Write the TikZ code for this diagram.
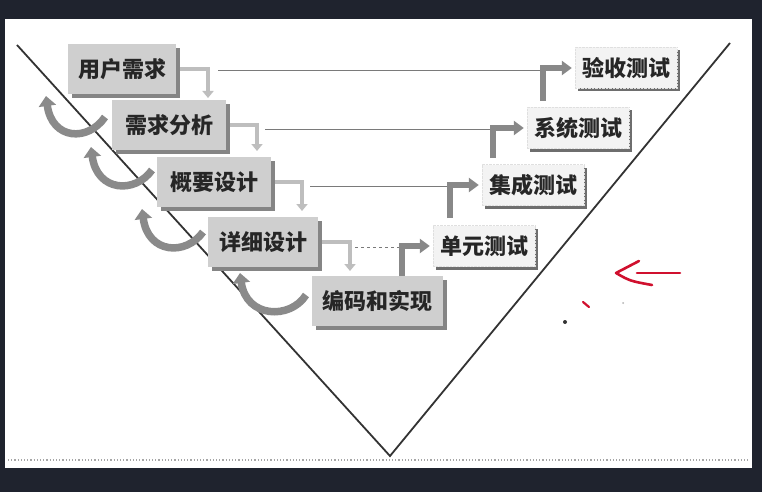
\documentclass[tikz,border=0pt]{standalone}
\usepackage{fontspec}
\newfontfamily\cjk{Noto Sans CJK SC}
\usetikzlibrary{arrows.meta,shadows,calc}
\definecolor{bgdark}{HTML}{1F232E}
\definecolor{lfill}{HTML}{CFCFCF}
\definecolor{lshadow}{HTML}{858585}
\definecolor{rfill}{HTML}{F3F3F3}
\definecolor{rshadow}{HTML}{6E6E6E}
\definecolor{elbow}{HTML}{888888}
\definecolor{downc}{HTML}{BEBEBE}
\definecolor{curvc}{HTML}{8A8A8A}
\definecolor{linec}{HTML}{7A7A7A}
\definecolor{vline}{HTML}{333333}
\definecolor{redmark}{HTML}{D0102E}
\begin{document}
\begin{tikzpicture}[x=1pt,y=-1pt,
  lbox/.style={fill=lfill, minimum height=50pt, inner sep=0pt,
    font=\cjk\bfseries\fontsize{22}{24}\selectfont, text=black!85,
    drop shadow={shadow xshift=4pt, shadow yshift=-4pt, fill=lshadow, opacity=1}},
  rbox/.style={fill=rfill, draw=gray!25, densely dotted, minimum width=102pt, minimum height=41pt, inner sep=0pt,
    font=\cjk\bfseries\fontsize{22}{24}\selectfont, text=black!85,
    drop shadow={shadow xshift=3pt, shadow yshift=-3pt, fill=rshadow, opacity=1}},
  elbowarrow/.style={draw=elbow, line width=5.5pt, -{Triangle[length=10pt,width=14pt]}, shorten >=3pt},
  downarrow/.style={draw=downc, line width=4pt, -{Triangle[length=7pt,width=11pt]}},
  curvarrow/.style={draw=curvc, line width=7.5pt, -{Triangle[length=10pt,width=17pt]}},
  hline/.style={draw=linec, line width=1pt},
  vshape/.style={draw=vline, line width=1.8pt}
]
\useasboundingbox (0,0) rectangle (762,492);
\fill[bgdark] (0,0) rectangle (762,492);
\fill[white] (5,19) rectangle (752,468);
\draw[gray!70, line width=1.2pt, dotted] (8,460) -- (750,460);

% V shape
\coordinate (vtl) at (17,45);
\coordinate (vb) at (390,456);
\coordinate (vtr) at (730,43);
\draw[vshape] (vtl) -- (vb) -- (vtr);

% left boxes
\node[lbox, minimum width=108pt] (L1) at (122,69) {用户需求};
\node[lbox, minimum width=114pt] (L2) at (169,125) {需求分析};
\node[lbox, minimum width=114pt] (L3) at (214,182) {概要设计};
\node[lbox, minimum width=110pt] (L4) at (263,242) {详细设计};
\node[lbox, minimum width=131pt] (L5) at (377,301) {编码和实现};

% right boxes
\node[rbox] (R1) at (626,68) {验收测试};
\node[rbox] (R2) at (578,128) {系统测试};
\node[rbox] (R3) at (533,185) {集成测试};
\node[rbox] (R4) at (484,246) {单元测试};

% down arrows from left boxes
\coordinate (d1) at (208,98);
\coordinate (d2) at (257,151);
\coordinate (d3) at (302,211);
\coordinate (d4) at (350,271);
\draw[downarrow] ([xshift=4pt]L1.east) -| (d1);
\draw[downarrow] ([xshift=4pt]L2.east) -| (d2);
\draw[downarrow] ([xshift=4pt]L3.east) -| (d3);
\draw[downarrow] ([xshift=4pt]L4.east) -| (d4);

% elbow arrows into right boxes
\coordinate (e1) at (543,101);
\coordinate (e2) at (493,158);
\coordinate (e3) at (450,218);
\coordinate (e4) at (402,276);
\draw[elbowarrow] (e1) |- (R1.west);
\draw[elbowarrow] (e2) |- (R2.west);
\draw[elbowarrow] (e3) |- (R3.west);
\draw[elbowarrow] (L5.north -| e4) |- (R4.west);

% horizontal connectors
\coordinate (h1a) at (218,71);
\coordinate (h1b) at (540,71);
\coordinate (h2a) at (265,129);
\coordinate (h2b) at (490,129);
\coordinate (h3a) at (310,186);
\coordinate (h3b) at (447,186);
\coordinate (h4a) at (355,247);
\coordinate (h4b) at (399,247);
\draw[hline] (h1a) -- (h1b);
\draw[hline] (h2a) -- (h2b);
\draw[hline] (h3a) -- (h3b);
\draw[hline, dashed] (h4a) -- (h4b);

% curved arrows on the left
\coordinate (c1s) at (105,117);
\coordinate (c1e) at (46,96);
\coordinate (c2s) at (152,170);
\coordinate (c2e) at (91,147);
\coordinate (c3s) at (203,232);
\coordinate (c3e) at (142,209);
\coordinate (c4s) at (306,295);
\coordinate (c4e) at (240,273);
\draw[curvarrow] (c1s) .. controls (88,142) and (52,140) .. (c1e);
\draw[curvarrow] (c2s) .. controls (135,194) and (97,192) .. (c2e);
\draw[curvarrow] (c3s) .. controls (186,256) and (148,254) .. (c3e);
\draw[curvarrow] (c4s) .. controls (290,320) and (246,318) .. (c4e);

% red annotation
\coordinate (ra) at (616,273);
\coordinate (rb) at (639,261);
\coordinate (rc) at (652,285);
\coordinate (rd) at (637,273);
\coordinate (re) at (680,273);
\draw[redmark, line width=2.6pt, line cap=round, line join=round] (rb) -- (ra) .. controls (630,281) .. (rc);
\draw[redmark, line width=2.6pt, line cap=round] (rd) -- (re);
\draw[redmark, line width=2.2pt, line cap=round] (583,302) -- (589,307);
\fill[black!80] (565,322) circle (2pt);
\fill[gray!60] (623,303) circle (1pt);
\end{tikzpicture}
\end{document}
